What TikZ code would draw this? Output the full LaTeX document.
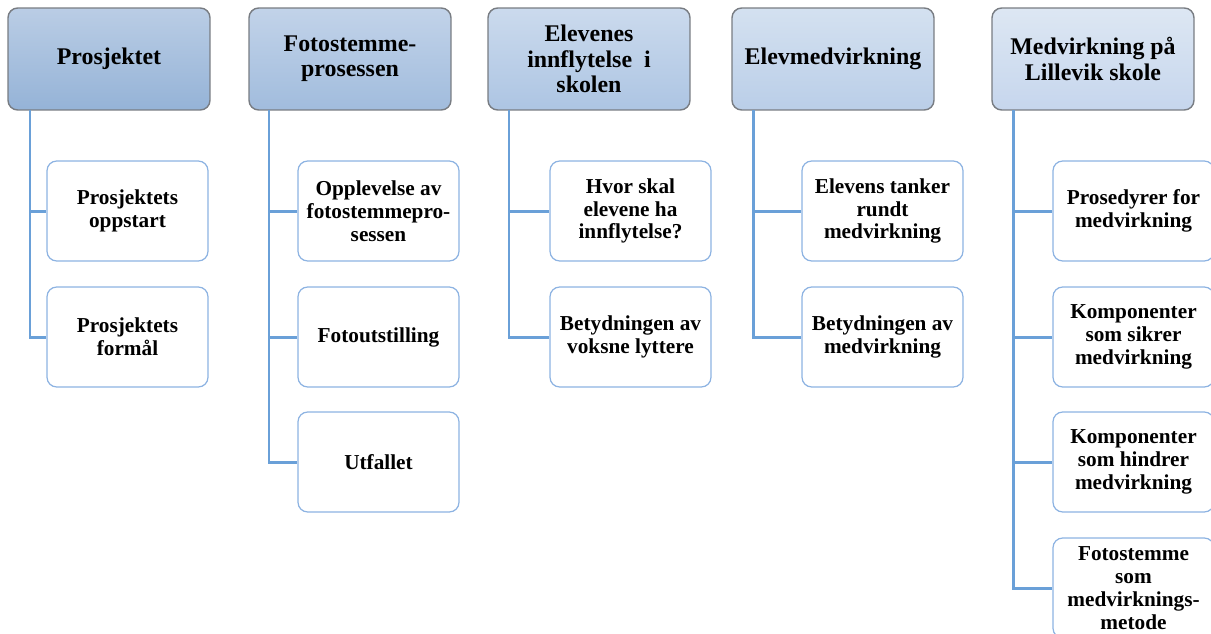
\documentclass[tikz,border=0pt]{standalone}
\usepackage{fontspec}
\setmainfont{Liberation Serif}
\usetikzlibrary{positioning}

\definecolor{topA}{RGB}{186,205,229}
\definecolor{botA}{RGB}{149,179,215}
\definecolor{topB}{RGB}{194,211,233}
\definecolor{botB}{RGB}{161,188,221}
\definecolor{topC}{RGB}{203,218,237}
\definecolor{botC}{RGB}{173,197,227}
\definecolor{topD}{RGB}{212,225,240}
\definecolor{botD}{RGB}{186,206,232}
\definecolor{topE}{RGB}{221,231,243}
\definecolor{botE}{RGB}{198,214,237}
\definecolor{headline}{RGB}{120,124,130}
\definecolor{childline}{RGB}{141,179,226}
\definecolor{connblue}{RGB}{106,160,216}

\begin{document}
\begin{tikzpicture}[
  x=0.02cm, y=-0.02cm,
  head/.style = {draw=headline, rounded corners=5.5pt, line width=0.8pt,
    minimum width=4.04cm, minimum height=2.04cm, align=center,
    font=\bfseries\fontsize{13.6}{14.4}\selectfont, inner sep=2pt},
  child/.style = {draw=childline, fill=white, rounded corners=5.5pt, line width=0.7pt,
    minimum width=3.22cm, minimum height=2.0cm, align=center,
    font=\bfseries\fontsize{12.1}{13}\selectfont, inner sep=2pt},
  conn/.style = {draw=connblue, line width=1.7pt}
  ]
	\useasboundingbox (0,0) rectangle (1211,633);
	\clip (0,0) rectangle (1211,633);

	\node[head, top color=topA, bottom color=botA] (h1) at (109,59) {Prosjektet};
	\node[head, top color=topB, bottom color=botB] (h2) at (350,59) {Fotostemme-\\prosessen};
	\node[head, top color=topC, bottom color=botC] (h3) at (589,59) {Elevenes\\innflytelse\ \ i\\skolen};
	\node[head, top color=topD, bottom color=botD] (h4) at (833,59) {Elevmedvirkning};
	\node[head, top color=topE, bottom color=botE] (h5) at (1093,59) {Medvirkning på\\Lillevik skole};

	\coordinate (t1) at (30,110);
	\coordinate (t2) at (269,110);
	\coordinate (t3) at (509,110);
	\coordinate (t4) at (753,110);
	\coordinate (t5) at (1013,110);

	\node[child] (c11) at (127.5,211) {Prosjektets\\oppstart};
	\node[child] (c12) at (127.5,337) {Prosjektets\\formål};

	\node[child] (c21) at (378.5,211) {Opplevelse av\\fotostemmepro-\\sessen};
	\node[child] (c22) at (378.5,337) {Fotoutstilling};
	\node[child] (c23) at (378.5,462) {Utfallet};

	\node[child] (c31) at (630.5,211) {Hvor skal\\elevene ha\\innflytelse?};
	\node[child] (c32) at (630.5,337) {Betydningen av\\voksne lyttere};

	\node[child] (c41) at (882.5,211) {Elevens tanker\\rundt\\medvirkning};
	\node[child] (c42) at (882.5,337) {Betydningen av\\medvirkning};

	\node[child] (c51) at (1133.5,211) {Prosedyrer for\\medvirkning};
	\node[child] (c52) at (1133.5,337) {Komponenter\\som sikrer\\medvirkning};
	\node[child] (c53) at (1133.5,462) {Komponenter\\som hindrer\\medvirkning};
	\node[child] (c54) at (1133.5,588) {Fotostemme\\som\\medvirknings-\\metode};

	\draw[conn] (t1) |- (c11.west);
	\draw[conn] (t1) |- (c12.west);
	\draw[conn] (t2) |- (c21.west);
	\draw[conn] (t2) |- (c22.west);
	\draw[conn] (t2) |- (c23.west);
	\draw[conn] (t3) |- (c31.west);
	\draw[conn] (t3) |- (c32.west);
	\draw[conn] (t4) |- (c41.west);
	\draw[conn] (t4) |- (c42.west);
	\draw[conn] (t5) |- (c51.west);
	\draw[conn] (t5) |- (c52.west);
	\draw[conn] (t5) |- (c53.west);
	\draw[conn] (t5) |- (c54.west);

\end{tikzpicture}
\end{document}
